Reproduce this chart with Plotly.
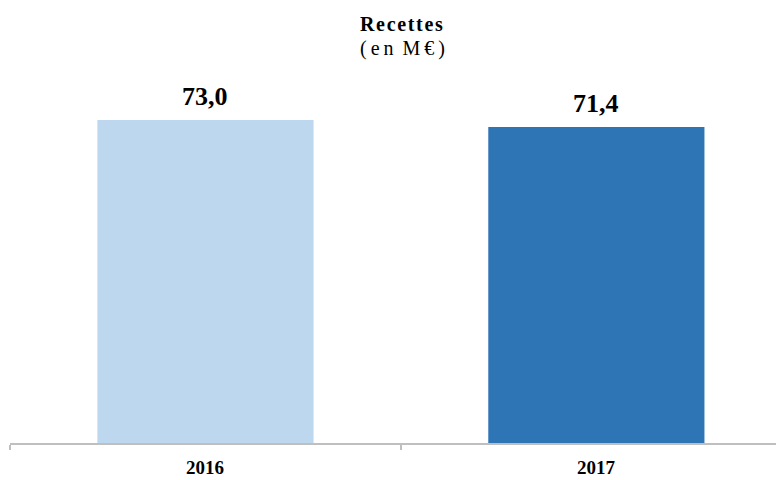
import plotly.graph_objects as go

categories = ["2016", "2017"]
values = [73.0, 71.4]
value_labels = ["73,0", "71,4"]
colors = ["#BDD7EE", "#2E75B6"]

idx = list(range(len(categories)))

fig = go.Figure()
fig.add_trace(go.Bar(
    x=idx, y=values, marker=dict(color=colors, line=dict(width=0)),
    width=0.553, hoverinfo="skip"
))

for i, v, t in zip(idx, values, value_labels):
    fig.add_annotation(x=i, y=v, text=f"<b>{t}</b>", showarrow=False,
                       yanchor="bottom", yshift=7,
                       font=dict(family="Liberation Serif", size=26, color="#000000"))

title = "\u200a".join("Recettes")
sub = "(\u2009e\u2009n\u2009 M\u2009€\u2009)"
fig.add_annotation(x=(393 - 2) / 774, y=1, xref="paper", yref="paper", yanchor="middle",
                   yshift=65, text=f"<b>{title}</b>",
                   showarrow=False, font=dict(family="Liberation Serif", size=20, color="#000000"))
fig.add_annotation(x=(394 - 2) / 774, y=1, xref="paper", yref="paper", yanchor="middle",
                   yshift=41, text=sub, showarrow=False,
                   font=dict(family="Liberation Serif", size=20, color="#000000"))

fig.update_layout(
    width=784, height=480,
    margin=dict(l=2, r=8, t=81, b=45),
    paper_bgcolor="white", plot_bgcolor="white",
    showlegend=False,
    xaxis=dict(
        type="linear",
        range=[-0.5, 1.48], showgrid=False, zeroline=False,
        showline=True, linecolor="#BFBFBF", linewidth=2,
        ticks="outside", ticklen=5, tickcolor="#BFBFBF", tickwidth=2,
        tickvals=[-0.5, 0.5, 1.5], ticktext=["", "", ""],
        fixedrange=True,
    ),
    yaxis=dict(range=[0, 80], visible=False, fixedrange=True),
)

for i, c in zip(idx, categories):
    fig.add_annotation(x=i, y=0, yref="y", text=f"<b>{c}</b>", showarrow=False,
                       yanchor="middle", yshift=-24,
                       font=dict(family="Liberation Serif", size=19, color="#000000"))

fig.write_html("out.html")
